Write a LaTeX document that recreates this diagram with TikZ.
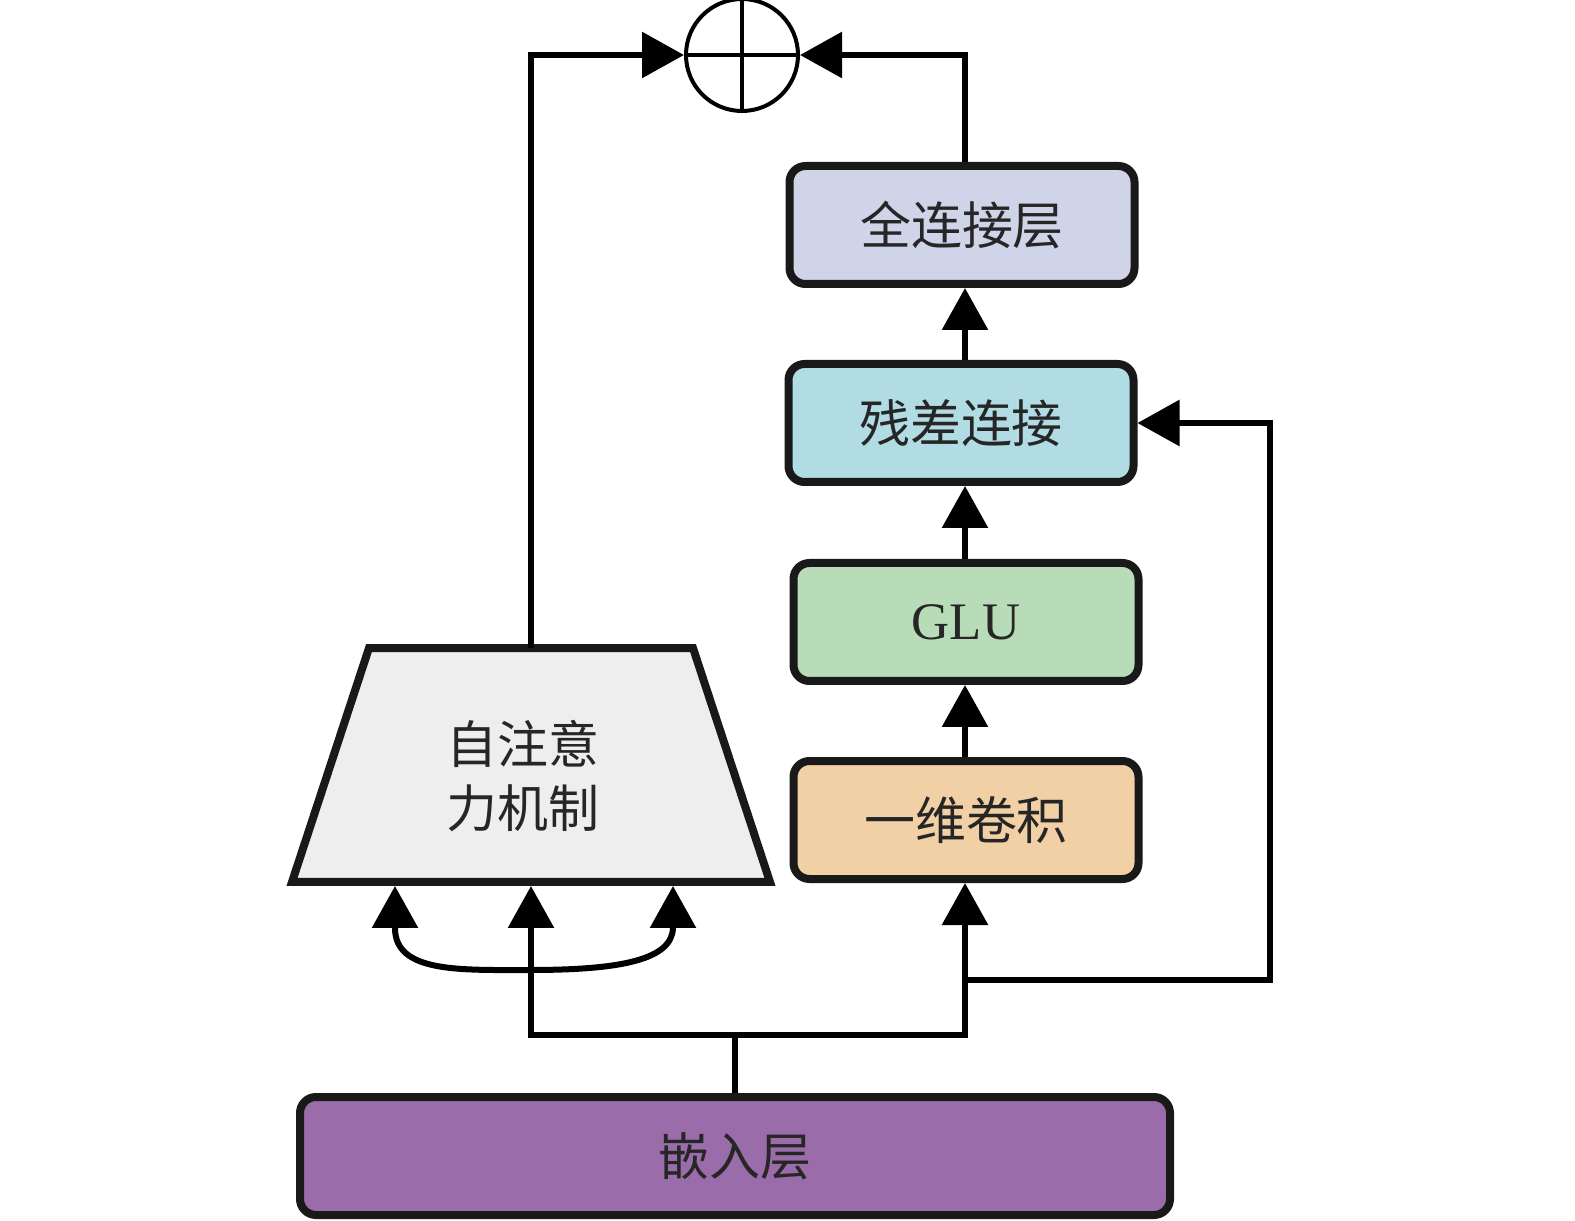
\documentclass[tikz,border=0pt]{standalone}
\usepackage{fontspec}
\setmainfont{Liberation Serif}
\newfontfamily\cjk{Noto Sans CJK SC}
\usetikzlibrary{arrows.meta,calc}
\definecolor{fccol}{RGB}{208,212,232}
\definecolor{rescol}{RGB}{178,220,228}
\definecolor{glucol}{RGB}{184,220,184}
\definecolor{convcol}{RGB}{240,208,164}
\definecolor{embcol}{RGB}{155,108,170}
\definecolor{attcol}{RGB}{238,238,238}
\begin{document}
\begin{tikzpicture}[
    layer/.style={draw=black!90,line width=0.08cm,rounded corners=0.16cm,minimum width=3.45cm,minimum height=1.18cm,font=\cjk\fontsize{14.5}{18}\selectfont,text=black!85},
    arr/.style={line width=0.06cm,-{Triangle[length=0.42cm,width=0.45cm]}},
    wire/.style={line width=0.06cm}]
\useasboundingbox (0,0) rectangle (15.75,12.20);
%\draw[step=0.5cm,gray,very thin] (0,0) grid (15.75,12.20); %background grid
\node[layer,fill=embcol,minimum width=8.70cm] (embed) at (7.35,0.64) {嵌入层};
\node[layer,fill=convcol] (conv) at (9.66,4.00) {一维卷积};
\node[layer,fill=glucol,font=\fontsize{15}{18}\selectfont] (glu) at (9.66,5.98) {\raisebox{-0.6ex}{GLU}};
\node[layer,fill=rescol] (res) at (9.61,7.97) {残差连接};
\node[layer,fill=fccol] (fc) at (9.62,9.95) {全连接层};
\node[minimum width=4.70cm,minimum height=2.26cm,outer sep=0.04cm] (attn) at (5.31,4.55) {};
\draw[black!90,fill=attcol,line width=0.08cm] (attn.south west) -- (attn.south east) -- ($(attn.north east)+(-0.77,0)$) -- ($(attn.north west)+(0.77,0)$) -- cycle;
\node[align=center,font=\cjk\fontsize{14.5}{18}\selectfont,text=black!85] (attntext) at (5.23,4.44) {自注意\\力机制};
\node[draw,circle,line width=0.04cm,minimum size=1.12cm,inner sep=0pt] (plus) at (7.42,11.65) {};
\draw[line width=0.04cm] (plus.north) -- (plus.south) (plus.west) -- (plus.east);

\coordinate (split) at (7.35,1.85);
\coordinate (tap) at (9.65,2.40);
\coordinate (loop) at (12.70,2.40);
\draw[wire] (embed.north) -- (split);
\draw[arr] (split) -| ($(attn.south)+(0,-0.04)$);
\draw[arr] (split) -| (tap) -- (tap |- conv.south);
\draw[arr] (tap |- conv.north) -- (tap |- glu.south);
\draw[arr] (tap |- glu.north) -- (tap |- res.south);
\draw[arr] (tap |- res.north) -- (tap |- fc.south);
\draw[arr] (tap) -- (loop) |- (res.east);
\draw[arr] (tap |- fc.north) |- (plus.east);
\draw[arr] (attn.north) |- (plus.west);
\draw[line width=0.06cm,{Triangle[length=0.42cm,width=0.45cm]}-{Triangle[length=0.42cm,width=0.45cm]}] ($(attn.south)+(-1.36,-0.04)$) -- ++(0,-0.42) .. controls +(0,-0.45) and (4.6,2.50) .. (5.30,2.50) .. controls (6.2,2.50) and (6.73,2.60) .. (6.73,2.93) -- ($(attn.south)+(1.42,-0.04)$);
\end{tikzpicture}
\end{document}
